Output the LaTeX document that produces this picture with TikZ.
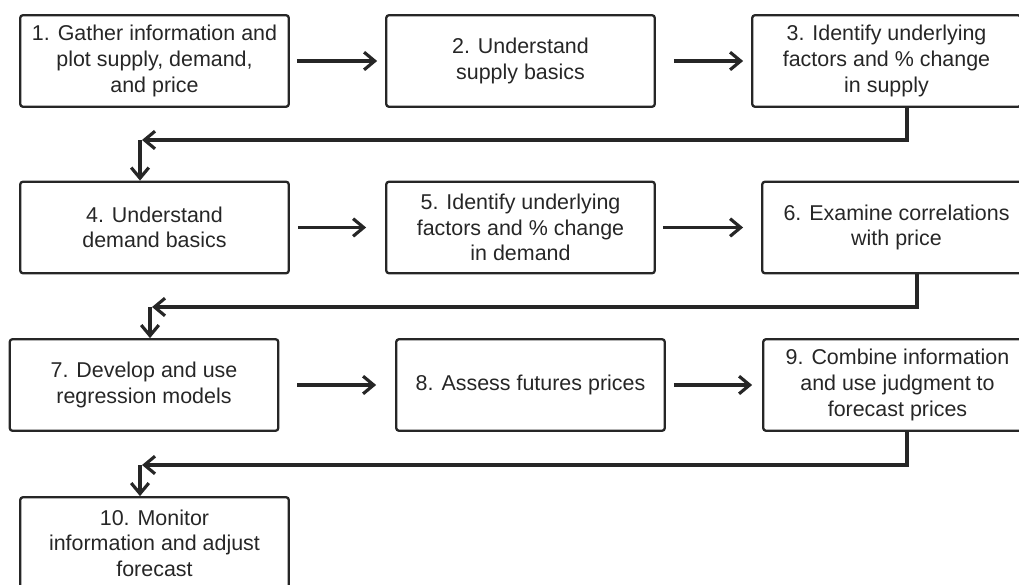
\documentclass[tikz,border=0pt]{standalone}
\usepackage{fontspec}
\setmainfont{Liberation Sans}
\usepackage{tikz}
\usetikzlibrary{arrows.meta,calc}
\definecolor{boxline}{HTML}{262626}
\tikzset{
  stepbox/.style={draw=boxline, line width=1.3pt, rounded corners=1.5pt, minimum width=5.37cm,
               minimum height=1.83cm, align=center, inner sep=2pt, text=boxline,
               font=\fontsize{12.2}{14.6}\selectfont},
  flow/.style={-{Straight Barb[length=6pt,width=10pt]}, line width=1.8pt, draw=boxline},
}
\def\cA{3.09}
\def\cB{10.41}
\def\yA{-1.22}
\def\yB{-4.55}
\def\yC{-7.70}
\def\yD{-10.86}

\begin{document}
\begin{tikzpicture}
  \useasboundingbox (0,0) rectangle (20.38,-11.70);
  \node[stepbox] (s1) at (\cA,\yA) {1. Gather information and\\plot supply, demand,\\and price};
  \node[stepbox] (s2) at (\cB,\yA) {2. Understand\\supply basics};
  \node[stepbox] (s3) at (17.73,\yA) {3. Identify underlying\\factors and \% change\\in supply};
  \node[stepbox] (s4) at (\cA,\yB) {4. Understand\\demand basics};
  \node[stepbox] (s5) at (\cB,\yB) {5. Identify underlying\\factors and \% change\\in demand};
  \node[stepbox] (s6) at (17.93,\yB) {6. Examine correlations\\with price};
  \node[stepbox] (s7) at (2.88,\yC) {7. Develop and use\\regression models};
  \node[stepbox] (s8) at (10.61,\yC) {8. Assess futures prices};
  \node[stepbox] (s9) at (17.95,\yC) {9. Combine information\\and use judgment to\\forecast prices};
  \node[stepbox] (s10) at (\cA,\yD) {10. Monitor\\information and adjust\\forecast};
  \draw[flow, shorten <=0.14cm, shorten >=0.16cm] (s1) -- (s2);
  \draw[flow, shorten <=0.36cm, shorten >=0.16cm] (s2) -- (s3);
  \draw[flow, shorten <=0.16cm, shorten >=0.38cm] (s4) -- (s5);
  \draw[flow, shorten <=0.14cm, shorten >=0.36cm] (s5) -- (s6);
  \draw[flow, shorten <=0.36cm, shorten >=0.38cm] (s7) -- (s8);
  \draw[flow, shorten <=0.16cm, shorten >=0.20cm] (s8) -- (s9);
  \coordinate (k1) at (2.80,-2.80);
  \coordinate (k2) at (3.00,-6.14);
  \coordinate (k3) at (2.80,-9.30);
  \draw[flow] ([xshift=0.41cm]s3.south) |- ([xshift=0.04cm]k1);
  \draw[flow] (k1) -- (k1 |- s4.north);
  \draw[flow] ([xshift=0.41cm]s6.south) |- ([xshift=0.04cm]k2);
  \draw[flow] (k2) -- (k2 |- s7.north);
  \draw[flow] ([xshift=0.19cm]s9.south) |- ([xshift=0.04cm]k3);
  \draw[flow] (k3) -- (k3 |- s10.north);
\end{tikzpicture}
\end{document}
